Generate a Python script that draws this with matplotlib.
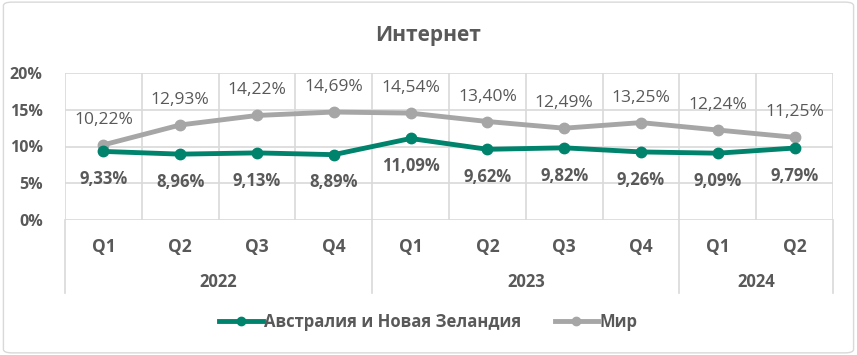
import numpy as np
import matplotlib
matplotlib.use('Agg')
import matplotlib.pyplot as plt
from matplotlib.patches import FancyBboxPatch

plt.rcParams['font.family'] = ['Open Sans', 'DejaVu Sans']

# данные
quarters = ['Q1', 'Q2', 'Q3', 'Q4', 'Q1', 'Q2', 'Q3', 'Q4', 'Q1', 'Q2']
years = ['2022', '2023', '2024']
year_counts = [4, 4, 2]
anz = [9.33, 8.96, 9.13, 8.89, 11.09, 9.62, 9.82, 9.26, 9.09, 9.79]
world = [10.22, 12.93, 14.22, 14.69, 14.54, 13.40, 12.49, 13.25, 12.24, 11.25]
yticks = [0, 5, 10, 15, 20]

green = '#00836C'
grey = '#A6A6A6'
txt = '#595959'
gridc = '#D9D9D9'

fig = plt.figure(figsize=(8.57, 3.55), dpi=100)
fig.patches.append(FancyBboxPatch((0.004, 0.006), 0.992, 0.988, boxstyle='round,pad=0,rounding_size=0.01',
                                  transform=fig.transFigure, facecolor='none', edgecolor=gridc, lw=1,
                                  zorder=-5))
ax = fig.add_axes([65 / 857, 135 / 355, 768 / 857, 147 / 355])
ax.set_facecolor('none')

x = np.arange(len(quarters))
ax.plot(x, world, '-o', color=grey, lw=3.5, ms=7.5, label='Мир', zorder=3)
ax.plot(x, anz, '-o', color=green, lw=3.5, ms=7.5, label='Австралия и Новая Зеландия', zorder=4)

for xi, v in zip(x, world):
    ax.annotate(f'{v:.2f}%'.replace('.', ','), (xi, v), xytext=(0, 18), textcoords='offset points',
                ha='center', va='center', fontsize=12.5, color=txt)
for xi, v in zip(x, anz):
    ax.annotate(f'{v:.2f}%'.replace('.', ','), (xi, v), xytext=(0, -20), textcoords='offset points',
                ha='center', va='center', fontsize=12, color=txt, fontweight='bold')

ax.set_xlim(-0.5, len(quarters) - 0.5)
ax.set_ylim(0, 20)
ax.set_yticks(yticks)
ax.set_yticklabels([f'{t}%' for t in yticks], fontsize=11.5, fontweight='bold', color=txt)
ax.set_xticks(x)
ax.set_xticklabels(quarters, fontsize=12.5, fontweight='bold', color=txt)
ax.tick_params(length=0, pad=13)
ax.tick_params(axis='y', pad=16)
ax.set_xticks(np.arange(-0.5, len(quarters)), minor=True)
ax.tick_params(which='minor', length=0)
ax.grid(True, which='major', axis='y', color=gridc, lw=1.2)
ax.grid(True, which='minor', axis='x', color=gridc, lw=1.2)
for s in ax.spines.values():
    s.set_visible(False)

# подписи годов и разделители
start = 0
bounds = [-0.5]
for yr, n in zip(years, year_counts):
    mid = start + (n - 1) / 2
    ax.text(mid, -0.42, yr, transform=ax.get_xaxis_transform(), ha='center', va='center',
            fontsize=12, fontweight='bold', color=txt)
    start += n
    bounds.append(start - 0.5)
for b in bounds:
    ax.plot([b, b], [0, -0.497], transform=ax.get_xaxis_transform(), color=gridc, lw=1.2, clip_on=False)

fig.text(0.5, 1 - 35 / 355, 'Интернет', ha='center', va='center', fontsize=15, fontweight='bold', color=txt)

h, l = ax.get_legend_handles_labels()
leg = fig.legend(h[::-1], l[::-1], loc='center', bbox_to_anchor=(0.5, 0.093), ncol=2, frameon=False,
                 prop={'size': 12, 'weight': 'bold'}, handlelength=2.6, handletextpad=0.1, columnspacing=2.0,
                 markerscale=0.8)
for t in leg.get_texts():
    t.set_color(txt)

fig.savefig('out.png', dpi=100)
